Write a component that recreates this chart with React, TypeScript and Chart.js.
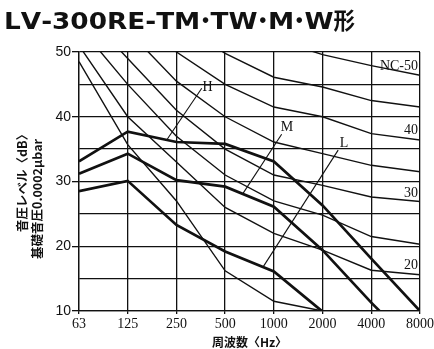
import React, { useEffect, useRef } from 'react';
import { Chart, registerables } from 'chart.js';

Chart.register(...registerables);

// ---- data ----
const chartTitle = 'LV-300RE-TM・TW・M・W形';
const frequencies = ['63', '125', '250', '500', '1000', '2000', '4000', '8000'];
const yTickLabels = [10, 20, 30, 40, 50];

const nc50 = [71, 64, 58, 54, 52, 49.6, 47.9, 46.4];
const nc45 = [67, 60, 54.5, 49.8, 46.1, 44.6, 42.5, 41.5];
const nc40 = [64, 56, 50, 45, 41.5, 40, 37.4, 36.4];
const nc35 = [60, 53.3, 45.5, 40, 36.1, 34.3, 32.5, 31.5];
const nc30 = [57, 49, 41, 35, 31, 29.4, 27.6, 26.9];
const nc25 = [54, 45, 37, 31, 27, 24.8, 21.5, 20.3];
const nc20 = [51, 40, 33, 26, 22, 19.4, 16.3, 15.6];
const nc15 = [48.5, 35.7, 27, 16.2, 11.5, 10, null, null];

const levelH = [33.1, 37.7, 36.1, 35.8, 33.1, 26.3, 18.1, 10];
const levelM = [31.2, 34.3, 30.2, 29.2, 26.1, 19.4, 11.3, 3.7];
const levelL = [28.5, 30.1, 23.3, 19.2, 16.1, 9.9, null, null];

// NC curve labels (placed at right edge, in dB)
const ncLabelTexts = ['NC-50', '40', '30', '20'];
const ncLabelLevels = [47.8, 37.9, 28.2, 17.0];

// series labels with leader lines: [octave index, dB]
const seriesNames = ['H', 'M', 'L'];
const seriesLabelPos = [[2.64, 44.6], [4.27, 38.4], [5.44, 35.9]];
const leaderStart = [[2.52, 44.4], [4.16, 37.3], [5.32, 34.85]];
const leaderEnd = [[1.8, 36.4], [3.37, 28.2], [3.77, 16.7]];

const xTitle = '周波数〈Hz〉';
const yTitleLines = ['音圧レベル〈dB〉', '基礎音圧0.0002μbar'];

const INK = '#111';

function drawTitle(ctx: CanvasRenderingContext2D) {
  const size = 23;
  const latinFont = `bold ${size}px "DejaVu Sans"`;
  const cjkFont = `bold ${size}px "Noto Sans CJK JP"`;
  const latinStretch = 1.22;
  const dotSlot = 11;
  const chars = Array.from(chartTitle);
  // layout pass
  const items: { ch: string; w: number; kind: string }[] = chars.map((ch) => {
    if (ch === '・') return { ch, w: dotSlot, kind: 'dot' };
    if (ch.charCodeAt(0) > 0x2e80) {
      ctx.font = cjkFont;
      return { ch, w: ctx.measureText(ch).width, kind: 'cjk' };
    }
    ctx.font = latinFont;
    return { ch, w: ctx.measureText(ch).width * latinStretch, kind: 'latin' };
  });
  const total = items.reduce((a, b) => a + b.w, 0);
  const left = 4;
  const right = 355;
  const k = (right - left) / total;
  let cx = 0;
  ctx.save();
  ctx.translate(left, 29);
  ctx.scale(k, 1);
  ctx.textBaseline = 'alphabetic';
  items.forEach((it) => {
    if (it.kind === 'dot') {
      ctx.font = cjkFont;
      ctx.textAlign = 'center';
      ctx.fillText(it.ch, cx + it.w / 2, 0);
    } else if (it.kind === 'cjk') {
      ctx.font = cjkFont;
      ctx.textAlign = 'left';
      ctx.fillText(it.ch, cx, 0);
    } else {
      ctx.font = latinFont;
      ctx.textAlign = 'left';
      ctx.save();
      ctx.translate(cx, 0);
      ctx.scale(latinStretch, 1);
      ctx.fillText(it.ch, 0, 0);
      ctx.restore();
    }
    cx += it.w;
  });
  ctx.restore();
}

const annotate = {
  id: 'annotate',
  afterDraw(chart: any) {
    const { ctx, scales } = chart;
    const x = scales.x;
    const y = scales.y;
    ctx.save();
    ctx.fillStyle = INK;
    ctx.strokeStyle = INK;

    drawTitle(ctx);

    // x axis title
    ctx.font = 'bold 12px "Noto Sans CJK JP"';
    ctx.textAlign = 'center';
    ctx.textBaseline = 'middle';
    ctx.fillText(xTitle, (chart.chartArea.left + chart.chartArea.right) / 2, 342);

    // y axis title (rotated)
    ctx.save();
    ctx.font = 'bold 12.5px "Noto Sans CJK JP"';
    ctx.translate(22.5, 180);
    ctx.rotate(-Math.PI / 2);
    ctx.fillText(yTitleLines[0], 0, 0);
    ctx.restore();
    ctx.save();
    ctx.font = 'bold 12.5px "Noto Sans CJK JP"';
    ctx.translate(37, 199);
    ctx.rotate(-Math.PI / 2);
    ctx.fillText(yTitleLines[1], 0, 0);
    ctx.restore();

    // NC labels
    ctx.font = '14px "Liberation Serif"';
    ctx.textAlign = 'right';
    ctx.textBaseline = 'middle';
    ncLabelTexts.forEach((t, i) => {
      ctx.fillText(t, x.right - 2, y.getPixelForValue(ncLabelLevels[i]));
    });

    // series labels and leaders
    ctx.textAlign = 'center';
    ctx.font = '14px "Liberation Serif"';
    ctx.lineWidth = 1.1;
    seriesNames.forEach((n, i) => {
      ctx.fillText(n, x.getPixelForValue(seriesLabelPos[i][0]), y.getPixelForValue(seriesLabelPos[i][1]));
      ctx.beginPath();
      ctx.moveTo(x.getPixelForValue(leaderStart[i][0]), y.getPixelForValue(leaderStart[i][1]));
      ctx.lineTo(x.getPixelForValue(leaderEnd[i][0]), y.getPixelForValue(leaderEnd[i][1]));
      ctx.stroke();
    });
    ctx.restore();
  },
};

function thin(data: (number | null)[]) {
  return { data, borderColor: INK, borderWidth: 1.4, pointRadius: 0, tension: 0, clip: 0, spanGaps: false };
}
function thick(data: (number | null)[]) {
  return { data, borderColor: INK, borderWidth: 2.7, pointRadius: 0, tension: 0, clip: 0, spanGaps: false };
}

export default function App() {
  const ref = useRef<HTMLCanvasElement>(null);
  useEffect(() => {
    document.body.style.margin = '0';
    const chart = new Chart(ref.current!, {
      type: 'line',
      data: {
        labels: frequencies,
        datasets: [
          thin(nc50), thin(nc45), thin(nc40), thin(nc35), thin(nc30), thin(nc25), thin(nc20), thin(nc15),
          thick(levelH), thick(levelM), thick(levelL),
        ] as any,
      },
      options: {
        animation: false,
        responsive: true,
        maintainAspectRatio: false,
        layout: { padding: { top: 52, right: 14, left: 0, bottom: 0 } },
        plugins: { legend: { display: false }, tooltip: { enabled: false }, title: { display: false } },
        scales: {
          x: {
            type: 'category',
            offset: false,
            grid: { color: INK, lineWidth: 1.3, offset: false, drawTicks: true, tickLength: 3, tickColor: INK },
            border: { color: INK, width: 1.3 },
            ticks: { color: INK, font: { family: 'Liberation Serif', size: 14 }, padding: 2, maxRotation: 0, autoSkip: false },
            afterFit: (s: any) => { s.height = 38; s.paddingLeft = 0; s.paddingRight = 0; },
          },
          y: {
            min: 10,
            max: 50,
            grid: {
              color: INK,
              lineWidth: 1.3,
              drawTicks: true,
              tickLength: 7,
              tickColor: (c: any) => (yTickLabels.includes(c.tick?.value) ? INK : 'rgba(0,0,0,0)'),
            },
            border: { color: INK, width: 1.3 },
            ticks: {
              stepSize: 5,
              color: INK,
              padding: 1,
              font: { family: 'Liberation Sans', size: 14 },
              callback: (v: any) => (yTickLabels.includes(Number(v)) ? String(v) : ''),
            },
            afterFit: (s: any) => { s.width = 79; },
          },
        },
      } as any,
      plugins: [annotate],
    });
    return () => chart.destroy();
  }, []);
  return (
    <div style={{ position: 'relative', width: 434, height: 349 }}>
      <canvas ref={ref} />
    </div>
  );
}
